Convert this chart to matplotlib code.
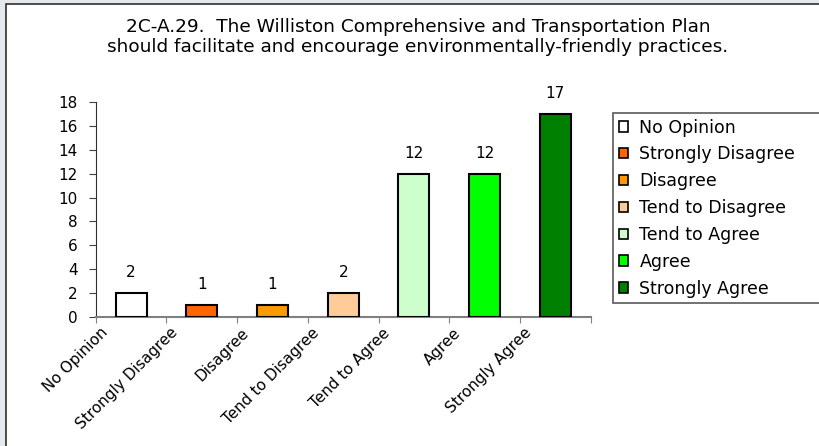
import matplotlib
matplotlib.use('Agg')
import matplotlib.pyplot as plt
from matplotlib.patches import Rectangle, Patch
from matplotlib.transforms import ScaledTranslation

# Survey answers for question 2C-A.29
categories = ['No Opinion', 'Strongly Disagree', 'Disagree', 'Tend to Disagree',
              'Tend to Agree', 'Agree', 'Strongly Agree']
counts = [2, 1, 1, 2, 12, 12, 17]
colors = ['#FFFFFF', '#FF6600', '#FF9900', '#FFCC99', '#CCFFCC', '#00FF00', '#008000']
yticks = [0, 2, 4, 6, 8, 10, 12, 14, 16, 18]

title = ('2C-A.29.  The Williston Comprehensive and Transportation Plan\n'
         'should facilitate and encourage environmentally-friendly practices.')

plt.rcParams['font.family'] = 'DejaVu Sans'

fig = plt.figure(figsize=(8.2, 4.46), dpi=100)
fig.patch.set_facecolor('#E6E9EC')
# white chart area with dark border (cut off at right / bottom)
fig.patches.append(Rectangle((6/820, -0.1), 1.2, 1 - 4/446 + 0.1, transform=fig.transFigure,
                             facecolor='white', edgecolor='#303030', linewidth=1.2, zorder=-10))

ax = fig.add_axes([95.7/820, 1 - 316.7/446, 495/820, 214.3/446])
ax.set_facecolor('none')

x = list(range(len(categories)))
bars = ax.bar(x, counts, width=0.44, color=colors, edgecolor='black', linewidth=1.5, zorder=3)

for xi, c in zip(x, counts):
    ax.annotate(str(c), (xi, c), xytext=(0, 9.5), textcoords='offset points',
                ha='center', va='bottom', fontsize=11)

ax.set_xlim(-0.5, len(categories) - 0.5)
ax.set_ylim(0, 18)
ax.set_yticks(yticks)
ax.tick_params(axis='y', labelsize=11, direction='out', length=5, color='#404040', pad=8)

# Excel style: labels sit on category boundaries
bounds = [i - 0.5 for i in range(len(categories) + 1)]
ax.set_xticks(bounds)
ax.set_xticklabels(categories + [''], rotation=45, ha='right', rotation_mode='anchor',
                   fontsize=11)
ax.tick_params(axis='x', direction='out', length=4, color='#808080', pad=2)
offset = ScaledTranslation(4/100, 0, fig.dpi_scale_trans)
for lbl in ax.get_xticklabels():
    lbl.set_transform(lbl.get_transform() + offset)

ax.spines['top'].set_visible(False)
ax.spines['right'].set_visible(False)
ax.spines['left'].set_color('#303030')
ax.spines['bottom'].set_color('#808080')
ax.spines['bottom'].set_linewidth(1.5)

fig.text(418/820, 1 - 37/446, title, ha='center', va='center', fontsize=13.3, linespacing=1.2)

handles = [Patch(facecolor=c, edgecolor='black', linewidth=1.2) for c in colors]
leg = fig.legend(handles, categories, loc='upper left',
                 bbox_to_anchor=(613/820, 1 - 303/446, 240/820, 190/446), mode='expand',
                 fontsize=12.5, frameon=True, fancybox=False, edgecolor='#303030',
                 handlelength=0.55, handleheight=0.55, handletextpad=0.65,
                 labelspacing=0.51, borderpad=0.32, borderaxespad=0)
leg.get_frame().set_linewidth(1.2)

fig.savefig('out.png', dpi=100, facecolor=fig.get_facecolor())
